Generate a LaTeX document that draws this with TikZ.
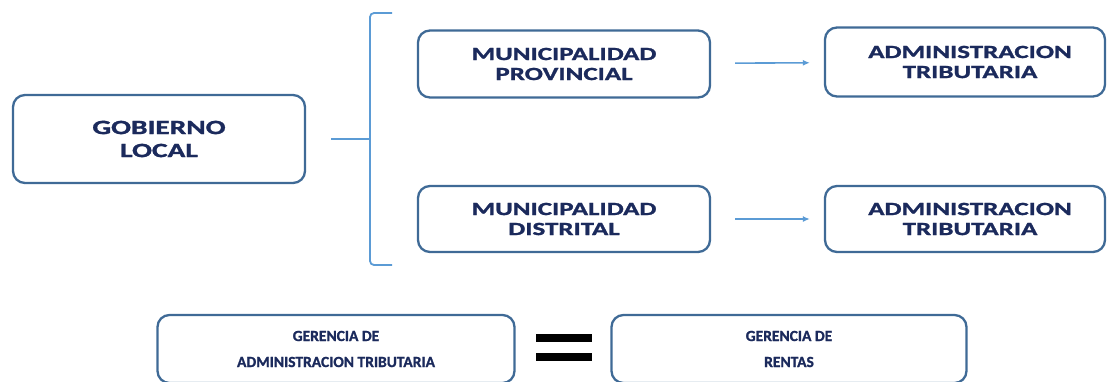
\documentclass[tikz,border=0pt]{standalone}
\usepackage{fontspec}
\setmainfont{Carlito}[BoldFont={Carlito Bold}, BoldFeatures={FakeBold=1.2}]
\newfontfamily\widefont{Carlito}[FakeStretch=1.45, BoldFont={Carlito Bold}, BoldFeatures={FakeBold=1.4}]
\definecolor{boxline}{HTML}{3F6A96}
\definecolor{boxtext}{HTML}{1B2A5C}
\definecolor{lightarrow}{HTML}{5B9BD5}
\usetikzlibrary{arrows.meta}
\tikzset{
  entebox/.style={draw=boxline, line width=2.3pt, rounded corners=12pt, fill=white,
    text=boxtext, font=\widefont\bfseries\fontsize{18.6}{20}\selectfont, align=center},
  flecha/.style={draw=lightarrow, line width=1.6pt, -{Latex[length=7pt,width=6pt]}},
}
\begin{document}
\begin{tikzpicture}[x=1pt,y=-1pt]
\useasboundingbox (0,0) rectangle (1107,381);
\clip (0,0) rectangle (1107,381);

\node[entebox, minimum width=292pt, minimum height=88pt, font=\widefont\bfseries\fontsize{20.3}{23}\selectfont] (gob) at (159,139) {GOBIERNO\\LOCAL};

\node[entebox, minimum width=292pt, minimum height=67pt] (prov) at (564,64) {MUNICIPALIDAD\\PROVINCIAL};
\node[entebox, minimum width=280pt, minimum height=69pt] (atprov) at (965,62) {\hspace*{10pt}ADMINISTRACION\\\hspace*{10pt}TRIBUTARIA};

\node[entebox, minimum width=292pt, minimum height=66pt] (dist) at (564,219) {MUNICIPALIDAD\\DISTRITAL};
\node[entebox, minimum width=280pt, minimum height=66pt] (atdist) at (965,219) {\hspace*{10pt}ADMINISTRACION\\\hspace*{10pt}TRIBUTARIA};

\node[entebox, minimum width=357pt, minimum height=68pt, font=\bfseries\fontsize{15.5}{26}\selectfont] (gat) at (336,349) {GERENCIA DE\\ADMINISTRACION TRIBUTARIA};
\node[entebox, minimum width=355pt, minimum height=68pt, font=\bfseries\fontsize{15.5}{26}\selectfont] (ger) at (789,349) {GERENCIA DE\\RENTAS};

% brace
\coordinate (bstart) at ([xshift=25pt]gob.east);
\coordinate (bmid) at ([xshift=65pt]gob.east);
\draw[draw=lightarrow, line width=1.8pt] (bstart) -- (bmid);
\draw[draw=lightarrow, line width=1.8pt, rounded corners=4pt] (392,13) -- (370,13) -- (370,265) -- (392,265);

\draw[flecha, shorten <=24pt, shorten >=14pt] (prov) -- (atprov);
\draw[flecha, shorten <=24pt, shorten >=14pt] (dist) -- (atdist);

% equals
\fill[black] (536,334) rectangle (592,342);
\fill[black] (536,353) rectangle (592,361);
\end{tikzpicture}
\end{document}
